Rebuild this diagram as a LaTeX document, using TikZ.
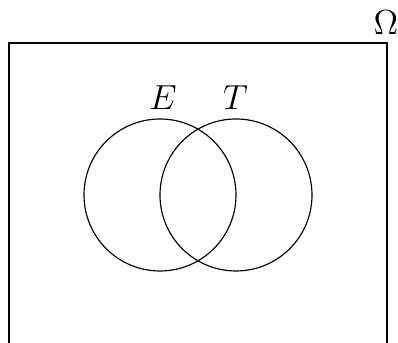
\documentclass[tikz,border=0pt]{standalone}
\begin{document}
\begin{tikzpicture}[x=0.345pt,y=-0.345pt,
  setcirc/.style={circle, draw, line width=0.4pt, minimum size=52.44pt, inner sep=0pt},
  frame/.style={draw, line width=0.6pt},
  lbl/.style={inner sep=0pt, font=\large}]
\useasboundingbox (0,0) rectangle (398,343);
\begin{scope}
  \clip (0,0) rectangle (398,343);
  \draw[frame] (9,43) rectangle (387,420);
\end{scope}
\node[setcirc] (E) at (160,195) {};
\node[setcirc] (T) at (236,195) {};
\node[lbl] (Elabel) at (163,98) {$E$};
\node[lbl] (Tlabel) at (235.5,98) {$T$};
\node[lbl] (omega) at (386,22.5) {$\Omega$};
\end{tikzpicture}
\end{document}
